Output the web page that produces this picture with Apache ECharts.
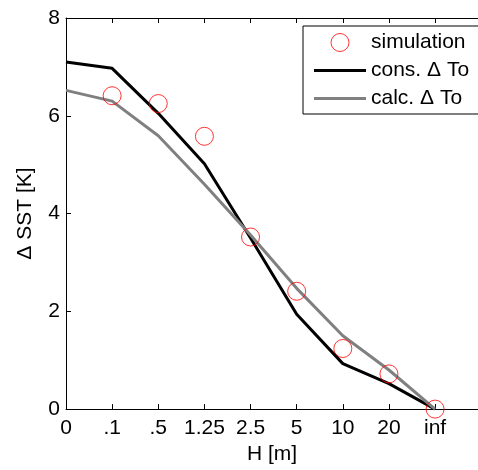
<!DOCTYPE html>
<html>
<head>
<meta charset="utf-8">
<script src="https://cdn.jsdelivr.net/npm/echarts@6/dist/echarts.min.js"></script>
<style>html,body{margin:0;padding:0;background:#fff;}#c{width:478px;height:470px;}</style>
</head>
<body>
<div id="c"></div>
<script>
const categories = ['0', '.1', '.5', '1.25', '2.5', '5', '10', '20', 'inf'];
const simulation = [null, 6.41, 6.25, 5.58, 3.52, 2.41, 1.24, 0.72, 0.0];
const consTo = [7.10, 6.97, 6.05, 5.02, 3.50, 1.94, 0.93, 0.52, 0.0];
const calcTo = [6.52, 6.30, 5.59, 4.60, 3.56, 2.47, 1.50, 0.80, 0.0];
const yTicks = [0, 2, 4, 6, 8];

const FONT = 'Liberation Sans, Arial, Helvetica, sans-serif';
const toPairs = arr => arr.map((v, i) => (v === null ? null : [i, v])).filter(p => p);
const LINE_ICON = 'path://M0,0L0,0M0,7.5L52,7.5L52,10.5L0,10.5ZM52,18L52,18';
const X_MAX = 8.93;

const chart = echarts.init(document.getElementById('c'), null, {renderer: 'canvas'});
chart.setOption({
  animation: false,
  backgroundColor: '#ffffff',
  textStyle: {fontFamily: FONT},
  grid: {left: 66, right: 0, top: 18, bottom: 58, containLabel: false},
  xAxis: [{
    type: 'value', min: 0, max: X_MAX, interval: 1, position: 'bottom',
    name: 'H [m]', nameLocation: 'middle', nameGap: 33,
    nameTextStyle: {fontSize: 21, color: '#000', fontFamily: FONT, lineHeight: 21},
    axisLine: {show: true, lineStyle: {color: '#000', width: 1}},
    axisTick: {show: true, inside: true, length: 5, lineStyle: {color: '#000'}},
    axisLabel: {show: true, margin: 9, fontSize: 21, color: '#000', fontFamily: FONT,
      showMaxLabel: false,
      formatter: v => (Math.abs(v - Math.round(v)) < 1e-6 && categories[Math.round(v)] !== undefined ? categories[Math.round(v)] : '')},
    splitLine: {show: false}
  }, {
    type: 'value', min: 0, max: X_MAX, interval: 1, position: 'top',
    axisLine: {show: true, lineStyle: {color: '#000', width: 1}},
    axisTick: {show: true, inside: true, length: 5, lineStyle: {color: '#000'}},
    axisLabel: {show: false},
    splitLine: {show: false}
  }],
  yAxis: {
    type: 'value', min: yTicks[0], max: yTicks[yTicks.length - 1], interval: 2,
    name: 'Δ SST [K]', nameLocation: 'middle', nameGap: 30,
    nameTextStyle: {fontSize: 21, color: '#000', fontFamily: FONT, lineHeight: 21},
    axisLine: {show: true, lineStyle: {color: '#000', width: 1}},
    axisTick: {show: true, inside: true, length: 5, lineStyle: {color: '#000'}},
    axisLabel: {show: true, margin: 6, fontSize: 21, color: '#000', fontFamily: FONT},
    splitLine: {show: false}
  },
  legend: {
    orient: 'vertical', left: 303, top: 26,
    padding: [6, 14, 5, 11],
    itemGap: 7, itemWidth: 52, itemHeight: 18,
    borderColor: '#000', borderWidth: 1, backgroundColor: '#fff',
    textStyle: {fontSize: 21, color: '#000', fontFamily: FONT, lineHeight: 21},
    data: [
      {name: 'simulation', icon: 'circle', itemStyle: {color: 'transparent', borderColor: '#ff0000', borderWidth: 1}},
      {name: 'cons. Δ To', icon: LINE_ICON, itemStyle: {color: '#000000', borderWidth: 0}},
      {name: 'calc. Δ To', icon: LINE_ICON, itemStyle: {color: '#808080', borderWidth: 0}}
    ]
  },
  series: [
    {
      name: 'simulation', type: 'scatter', xAxisIndex: 0,
      data: toPairs(simulation), symbol: 'circle', symbolSize: 18,
      itemStyle: {color: 'transparent', borderColor: '#ff0000', borderWidth: 1},
      z: 3
    },
    {
      name: 'cons. Δ To', type: 'line', xAxisIndex: 0,
      data: toPairs(consTo), symbol: 'none', showSymbol: false,
      lineStyle: {color: '#000000', width: 3}, itemStyle: {color: '#000000'},
      z: 2
    },
    {
      name: 'calc. Δ To', type: 'line', xAxisIndex: 0,
      data: toPairs(calcTo), symbol: 'none', showSymbol: false,
      lineStyle: {color: '#808080', width: 3}, itemStyle: {color: '#808080'},
      z: 2
    }
  ]
});
</script>
</body>
</html>
